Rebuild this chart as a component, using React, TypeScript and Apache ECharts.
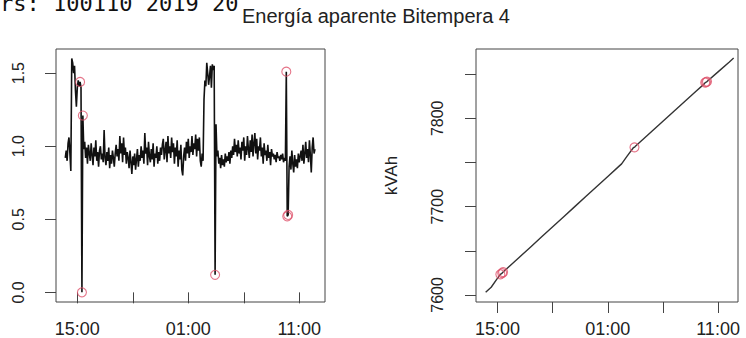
import React, { useEffect, useRef } from "react";
import * as echarts from "echarts";

const headerText = "rs: 100110 2019 20";
const titleText = "Energía aparente Bitempera 4";
const energyAxisName = "kVAh";

// 5-minute apparent-energy increments (left panel)
const rateStart = "13:55";
const rateStepMinutes = 5;
const rateValues = [
  // i0-19
  0.92, 0.97, 0.90, 1.02, 1.06, 0.95, 0.83, 1.60, 1.57, 1.50, 1.55, 1.38, 1.27, 1.40, 1.45, 1.41, 1.44, 1.40, 0.00, 1.21,
  // i20-31
  0.98, 1.03, 0.92, 0.99, 0.88, 1.01, 0.95, 0.90, 1.02, 0.94, 0.87, 0.99,
  // i32-43
  0.93, 1.04, 0.90, 0.96, 0.86, 0.97, 1.00, 0.91, 0.95, 0.89, 1.11, 0.92,
  // i44-55
  0.87, 0.96, 0.90, 0.99, 0.85, 0.94, 0.88, 0.97, 0.92, 0.86, 0.95, 1.01,
  // i56-67
  0.93, 0.98, 0.90, 1.07, 0.95, 1.02, 0.89, 1.06, 0.94, 0.99, 0.88, 0.96,
  // i68-79
  0.92, 0.85, 0.97, 0.89, 0.81, 0.93, 0.87, 0.95, 0.84, 0.91, 0.98, 0.86,
  // i80-91
  0.94, 0.90, 1.00, 0.92, 0.97, 0.88, 1.09, 0.95, 0.99, 0.87, 1.03, 0.93,
  // i92-103
  0.89, 0.98, 0.91, 1.02, 0.86, 0.95, 0.92, 1.00, 0.88, 0.96, 0.90, 0.99,
  // i104-115
  0.94, 1.01, 1.05, 0.91, 0.97, 1.03, 0.89, 1.07, 0.95, 1.00, 0.92, 1.06,
  // i116-127
  0.96, 1.02, 0.88, 0.99, 0.93, 1.04, 0.86, 0.97, 0.91, 1.01, 0.84, 0.80,
  // i128-139
  0.93, 0.99, 0.90, 1.03, 0.95, 1.05, 0.92, 1.00, 0.96, 1.07, 0.94, 1.02,
  // i140-148
  0.98, 1.08, 0.93, 1.05, 0.97, 1.06, 0.90, 0.86, 0.95,
  // i149-163
  0.90, 1.32, 1.45, 1.41, 1.57, 1.50, 1.42, 1.48, 1.55, 1.40, 1.56, 1.52, 1.55, 0.12, 1.15,
  // i164-175
  0.93, 0.97, 0.88, 0.92, 0.85, 0.94, 0.87, 0.91, 0.86, 0.95, 0.89, 0.93,
  // i176-187
  0.90, 0.96, 0.88, 0.97, 0.92, 1.00, 0.94, 1.05, 0.96, 1.01, 0.93, 1.04,
  // i188-199
  0.95, 0.99, 0.91, 1.03, 0.97, 1.06, 0.90, 1.00, 0.94, 1.07, 0.98, 0.92,
  // i200-211
  1.04, 0.96, 1.08, 0.93, 1.02, 1.09, 0.95, 1.05, 0.91, 1.00, 0.97, 1.06,
  // i212-223
  0.93, 0.99, 0.88, 1.02, 0.94, 0.97, 0.90, 1.01, 0.92, 0.96, 0.87, 0.98,
  // i224-235
  0.93, 0.95, 0.91, 0.94, 0.89, 0.96, 0.92, 0.93, 0.90, 0.94, 0.91, 0.95,
  // i236-241
  0.89, 0.92, 0.90, 1.51, 0.52, 0.53,
  // i242-253
  0.86, 0.93, 0.84, 0.97, 0.88, 0.82, 0.94, 0.86, 0.91, 0.85, 0.95, 0.89,
  // i254-265
  0.93, 0.97, 0.90, 1.01, 0.88, 0.95, 1.03, 0.92, 0.98, 0.89, 1.04, 0.94,
  // i266-270
  0.82, 0.99, 1.06, 0.95, 0.98,
];
const rateOutlierIdx = [16, 18, 19, 162, 239, 240, 241];

// cumulative meter reading (right panel)
const energyTimes = [
  "13:55", "14:25", "14:55", "15:15", "15:25", "15:30", "16:00", "17:00", "18:00", "19:00",
  "20:00", "21:00", "22:00", "23:00", "00:00", "01:00", "02:00", "02:15", "02:45", "03:20",
  "03:25", "03:30", "04:00", "05:00", "06:00", "07:00", "08:00", "09:00", "09:45", "09:50",
  "09:55", "10:00", "11:00", "12:00", "12:25",
];
const energyValues = [
  7603, 7608.7, 7617.6, 7623.3, 7624.7, 7625.9, 7631.6, 7643.0, 7654.4, 7665.8,
  7677.2, 7688.6, 7700.0, 7711.4, 7722.8, 7734.2, 7745.6, 7748.4, 7757.1, 7767.0,
  7767.1, 7768.3, 7774.0, 7785.3, 7796.6, 7808.0, 7819.3, 7830.6, 7839.0, 7840.5,
  7841.0, 7841.6, 7852.6, 7863.6, 7868.3,
];
const energyOutlierTimes = ["15:15", "15:25", "15:30", "03:25", "09:50", "09:55", "10:00"];

// axis ticks (hours counted from midnight of the first day)
const xTickHours = [15, 20, 25, 30, 35];
const xLabelHours = [15, 25, 35];
const rateTicks = [0, 0.5, 1.0, 1.5];
const energyTicks = [7600, 7650, 7700, 7750, 7800, 7850];
const energyLabels = [7600, 7700, 7800];

function hhmm(s: string) {
  const [h, m] = s.split(":").map(Number);
  return h + m / 60;
}
function withRollover(times: string[]) {
  let day = 0;
  let prev = -Infinity;
  return times.map((t) => {
    const h = hhmm(t);
    if (h < prev) day += 1;
    prev = h;
    return h + 24 * day;
  });
}
const hourLabel = (v: number) => {
  const h = Math.round(((v % 24) + 24) % 24);
  return String(h).padStart(2, "0") + ":00";
};

const FONT = "Liberation Sans, Arial, Helvetica, sans-serif";
const TEXT = "#222";
const LINE = "#444";
const RED = "#DF536B";

function buildOption() {
  const t0 = hhmm(rateStart);
  const rateData = rateValues.map((v, i) => [t0 + (i * rateStepMinutes) / 60, v]);
  const rateOut = rateOutlierIdx.map((i) => rateData[i]);
  const eHours = withRollover(energyTimes);
  const energyData = energyValues.map((v, i) => [eHours[i], v]);
  const energyOut = energyOutlierTimes.map((t) => energyData[energyTimes.indexOf(t)]);

  const xAxisBase = (gridIndex: number, min: number, max: number) => ({
    type: "value",
    gridIndex,
    min,
    max,
    axisLine: { show: false },
    splitLine: { show: false },
    axisTick: { show: true, length: 11, customValues: xTickHours, lineStyle: { color: LINE, width: 1 } },
    axisLabel: {
      customValues: xLabelHours,
      formatter: hourLabel,
      fontSize: 18,
      fontFamily: FONT,
      color: TEXT,
      margin: 18,
    },
  });

  return {
    animation: false,
    backgroundColor: "#fff",
    graphic: [
      {
        type: "text",
        x: 0,
        y: 3,
        style: {
          text: headerText,
          fontFamily: "DejaVu Sans Mono, Liberation Mono, monospace",
          fontSize: 22,
          fill: "#111",
          textAlign: "left",
          textVerticalAlign: "middle",
        },
      },
      {
        type: "text",
        x: 376,
        y: 16,
        style: {
          text: titleText,
          fontFamily: FONT,
          fontSize: 20,
          fill: TEXT,
          textAlign: "center",
          textVerticalAlign: "middle",
        },
      },
    ],
    grid: [
      { left: 56, top: 49, width: 269, height: 255, show: true, borderColor: LINE, borderWidth: 1, backgroundColor: "transparent" },
      { left: 476, top: 49, width: 262, height: 255, show: true, borderColor: LINE, borderWidth: 1, backgroundColor: "transparent" },
    ],
    xAxis: [xAxisBase(0, 13.08, 37.32), xAxisBase(1, 13.04, 36.81)],
    yAxis: [
      {
        type: "value",
        gridIndex: 0,
        min: -0.066,
        max: 1.665,
        axisLine: { show: false },
        splitLine: { show: false },
        axisTick: { show: true, length: 11, customValues: rateTicks, lineStyle: { color: LINE, width: 1 } },
        axisLabel: {
          customValues: rateTicks,
          formatter: (v: number) => v.toFixed(1),
          rotate: 90,
          margin: 30,
          fontSize: 16,
          fontFamily: FONT,
          color: TEXT,
        },
      },
      {
        type: "value",
        gridIndex: 1,
        min: 7592,
        max: 7878.5,
        name: energyAxisName,
        nameLocation: "middle",
        nameGap: 76,
        nameRotate: 90,
        nameTextStyle: { fontSize: 17, fontFamily: FONT, color: TEXT },
        axisLine: { show: false },
        splitLine: { show: false },
        axisTick: { show: true, length: 11, customValues: energyTicks, lineStyle: { color: LINE, width: 1 } },
        axisLabel: {
          customValues: energyLabels,
          formatter: (v: number) => String(v),
          rotate: 90,
          margin: 31,
          fontSize: 16,
          fontFamily: FONT,
          color: TEXT,
        },
      },
    ],
    series: [
      {
        type: "line",
        xAxisIndex: 0,
        yAxisIndex: 0,
        data: rateData,
        showSymbol: false,
        silent: true,
        lineStyle: { color: "#111", width: 1.6 },
        z: 2,
      },
      {
        type: "scatter",
        xAxisIndex: 0,
        yAxisIndex: 0,
        data: rateOut,
        symbol: "circle",
        symbolSize: 9,
        silent: true,
        itemStyle: { color: "transparent", borderColor: RED, borderWidth: 1.1 },
        z: 3,
      },
      {
        type: "line",
        xAxisIndex: 1,
        yAxisIndex: 1,
        data: energyData,
        showSymbol: false,
        silent: true,
        lineStyle: { color: "#333", width: 1.4 },
        z: 2,
      },
      {
        type: "scatter",
        xAxisIndex: 1,
        yAxisIndex: 1,
        data: energyOut,
        symbol: "circle",
        symbolSize: 9,
        silent: true,
        itemStyle: { color: "transparent", borderColor: RED, borderWidth: 1.1 },
        z: 3,
      },
    ],
  };
}

export default function App() {
  const ref = useRef<HTMLDivElement>(null);
  useEffect(() => {
    const chart = echarts.init(ref.current!, null, { renderer: "svg" });
    chart.setOption(buildOption() as any);
    return () => chart.dispose();
  }, []);
  return (
    <div
      ref={ref}
      style={{ position: "fixed", left: 0, top: 0, width: 746, height: 338, background: "#fff" }}
    />
  );
}
